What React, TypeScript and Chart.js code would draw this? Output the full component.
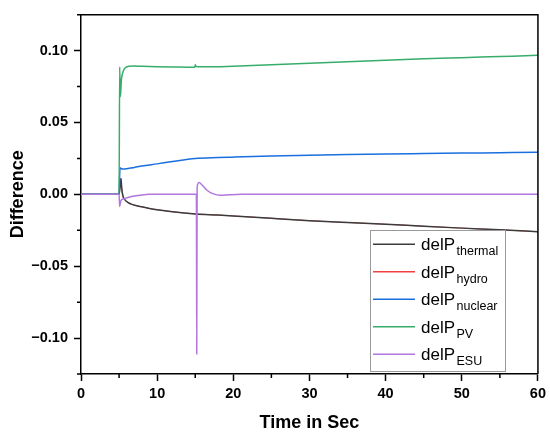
import React, { useEffect, useRef } from "react";
import { Chart, registerables } from "chart.js";

Chart.register(...registerables);

// ---- data ----
const thermalT = [0, 5.0, 5.1, 5.25, 5.35, 5.5, 5.8, 6.2, 6.6, 7.2, 8, 9, 10, 12, 15, 18, 20, 25, 30, 35, 40, 45, 50, 55, 60];
const thermalV = [0, 0, 0.004, 0.011, 0.004, -0.001, -0.004, -0.0058, -0.0068, -0.0078, -0.0087, -0.0098, -0.0107, -0.0121, -0.0136, -0.0144, -0.015, -0.0167, -0.0183, -0.0196, -0.0208, -0.0222, -0.0235, -0.0247, -0.026];

// hydro is not visible in the reference: it lies under the thermal curve
const hydroT = [0, 5.0, 5.1, 5.25, 5.35, 5.5, 5.8, 6.2, 6.6, 7.2, 8, 9, 10, 12, 15, 18, 20, 25, 30, 35, 40, 45, 50, 55, 60];
const hydroV = [0, 0, 0.004, 0.011, 0.004, -0.001, -0.004, -0.0058, -0.0068, -0.0078, -0.0087, -0.0098, -0.0107, -0.0121, -0.0136, -0.0144, -0.015, -0.0167, -0.0183, -0.0196, -0.0208, -0.0222, -0.0235, -0.0247, -0.026];

const nuclearT = [0, 5.0, 5.12, 5.3, 5.6, 6, 7, 8, 10, 12, 15, 18, 20, 25, 30, 35, 40, 45, 50, 55, 60];
const nuclearV = [0, 0, 0.0185, 0.0178, 0.0176, 0.0178, 0.0187, 0.0197, 0.0212, 0.0228, 0.0249, 0.0256, 0.0259, 0.0266, 0.0272, 0.0277, 0.0281, 0.0284, 0.0287, 0.029, 0.0293];

const pvT = [0, 5.0, 5.08, 5.14, 5.18, 5.3, 5.5, 5.8, 6.3, 7, 8, 10, 12, 14.95, 15.0, 15.1, 15.3, 17, 20, 25, 30, 35, 40, 45, 50, 55, 60];
const pvV = [0, 0, 0.0886, 0.072, 0.068, 0.0795, 0.085, 0.088, 0.0892, 0.0893, 0.0891, 0.0888, 0.0886, 0.0884, 0.0902, 0.0891, 0.0887, 0.0887, 0.0892, 0.0902, 0.0912, 0.0923, 0.0933, 0.0943, 0.0951, 0.0959, 0.0967];

const esuT = [0, 5.0, 5.08, 5.2, 5.4, 5.7, 6.2, 7, 8, 9, 12, 15.15, 15.2, 15.25, 15.5, 15.9, 16.5, 17.3, 18.3, 19.5, 21, 60];
const esuV = [0, 0, -0.0085, -0.005, -0.0035, -0.003, -0.0022, -0.0012, -0.0004, 0, 0, 0, -0.111, 0.005, 0.0082, 0.0065, 0.003, 0.0005, -0.0007, -0.0003, 0, 0];

const seriesNames = ["thermal", "hydro", "nuclear", "PV", "ESU"];
const seriesColors = ["#3c3c3c", "#F14040", "#1A6FDF", "#37AD6B", "#B177DE"];

const xTicks = [0, 10, 20, 30, 40, 50, 60];
const xMinor = [5, 15, 25, 35, 45, 55];
const yTicks = [-0.1, -0.05, 0, 0.05, 0.1];
const yMinor = [-0.125, -0.075, -0.025, 0.025, 0.075, 0.125];

const FONT = '"Liberation Sans", Arial, sans-serif';

const toPts = (t: number[], v: number[]) => t.map((x, i) => ({ x, y: v[i] }));

const decorPlugin = {
  id: "decor",
  afterDraw(chart: any) {
    const { ctx, chartArea } = chart;
    const { left, right, top, bottom } = chartArea;
    const xs = chart.scales.x;
    const ys = chart.scales.y;
    ctx.save();
    // frame top/right
    ctx.strokeStyle = "#000";
    ctx.lineWidth = 1.5;
    ctx.beginPath();
    ctx.moveTo(left, top);
    ctx.lineTo(right, top);
    ctx.lineTo(right, bottom);
    ctx.stroke();
    // minor ticks
    ctx.beginPath();
    xMinor.forEach((v) => {
      const px = xs.getPixelForValue(v);
      ctx.moveTo(px, bottom);
      ctx.lineTo(px, bottom + 4);
    });
    yMinor.forEach((v) => {
      const py = ys.getPixelForValue(v);
      ctx.moveTo(left, py);
      ctx.lineTo(left - 4, py);
    });
    ctx.stroke();

    // axis titles
    ctx.fillStyle = "#000";
    ctx.font = `bold 18px ${FONT}`;
    ctx.textAlign = "center";
    ctx.textBaseline = "alphabetic";
    ctx.fillText("Time in Sec", (left + right) / 2, 428);
    ctx.save();
    ctx.translate(23, (top + bottom) / 2);
    ctx.rotate(-Math.PI / 2);
    ctx.fillText("Difference", 0, 0);
    ctx.restore();

    // legend
    const bx = 370.5, by = 230.5, bw = 135, bh = 141;
    ctx.fillStyle = "#fff";
    ctx.fillRect(bx, by, bw, bh);
    ctx.strokeStyle = "#9a9a9a";
    ctx.lineWidth = 1;
    ctx.strokeRect(bx, by, bw, bh);
    ctx.textAlign = "left";
    seriesNames.forEach((name, i) => {
      const ly = 244.3 + i * 27.5;
      ctx.strokeStyle = seriesColors[i];
      ctx.lineWidth = 1.5;
      ctx.beginPath();
      ctx.moveTo(373, ly);
      ctx.lineTo(415, ly);
      ctx.stroke();
      ctx.fillStyle = "#000";
      ctx.font = `17px ${FONT}`;
      ctx.fillText("delP", 421, ly + 5.7);
      const w = ctx.measureText("delP").width;
      ctx.font = `12.5px ${FONT}`;
      ctx.fillText(name, 421 + w + 1.5, ly + 10.7);
    });
    ctx.restore();
  },
};

export default function App() {
  const ref = useRef<HTMLCanvasElement | null>(null);
  useEffect(() => {
    document.body.style.margin = "0";
    const canvas = ref.current;
    if (!canvas) return;
    const sets = [
      { t: thermalT, v: thermalV, order: 3, w: 1.5 },
      { t: hydroT, v: hydroV, order: 4, w: 0.8 },
      { t: nuclearT, v: nuclearV, order: 2, w: 1.5 },
      { t: pvT, v: pvV, order: 1, w: 1.5 },
      { t: esuT, v: esuV, order: 0, w: 1.5 },
    ];
    const chart = new Chart(canvas, {
      type: "line",
      data: {
        datasets: sets.map((s, i) => ({
          label: "delP" + seriesNames[i],
          data: toPts(s.t, s.v),
          borderColor: seriesColors[i],
          backgroundColor: seriesColors[i],
          borderWidth: s.w,
          pointRadius: 0,
          fill: false,
          cubicInterpolationMode: "monotone" as const,
          order: s.order,
        })),
      },
      options: {
        responsive: false,
        animation: false,
        layout: { padding: { top: 6, right: 12, left: 0, bottom: 0 } },
        plugins: { legend: { display: false }, tooltip: { enabled: false } },
        scales: {
          x: {
            type: "linear",
            min: 0,
            max: 60,
            afterBuildTicks: (s: any) => {
              s.ticks = xTicks.map((v) => ({ value: v }));
            },
            afterFit: (s: any) => {
              s.height = 58;
            },
            border: { color: "#000", width: 1.5 },
            grid: { drawOnChartArea: false, drawTicks: true, tickLength: 7, tickColor: "#000", tickWidth: 1.5 },
            ticks: {
              color: "#000",
              padding: 4,
              maxRotation: 0,
              font: { family: FONT, size: 14.5, weight: "bold" },
              callback: (v: any) => String(v),
            },
          },
          y: {
            type: "linear",
            min: -0.125,
            max: 0.125,
            afterBuildTicks: (s: any) => {
              s.ticks = yTicks.map((v) => ({ value: v }));
            },
            afterFit: (s: any) => {
              s.width = 81;
            },
            border: { color: "#000", width: 1.5 },
            grid: { drawOnChartArea: false, drawTicks: true, tickLength: 7, tickColor: "#000", tickWidth: 1.5 },
            ticks: {
              color: "#000",
              padding: 6,
              font: { family: FONT, size: 14.5, weight: "bold" },
              callback: (v: any) => {
                const n = Number(v);
                if (Math.abs(n) < 1e-9) return "0.00";
                return (n < 0 ? "\u2212" : "") + Math.abs(n).toFixed(2);
              },
            },
          },
        },
      },
      plugins: [decorPlugin],
    });
    return () => chart.destroy();
  }, []);
  return <canvas ref={ref} width={550} height={432} style={{ display: "block" }} />;
}
